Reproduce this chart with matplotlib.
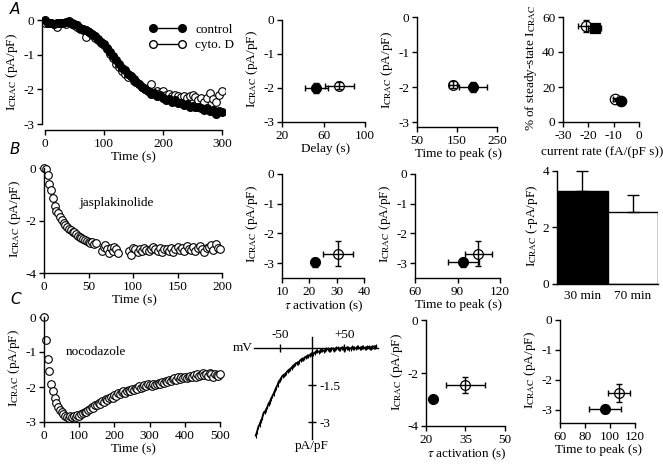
import numpy as np
import matplotlib
matplotlib.use("Agg")
import matplotlib.pyplot as plt
from matplotlib.lines import Line2D

plt.rcParams['font.family'] = ['Liberation Serif', 'DejaVu Serif']
plt.rcParams['mathtext.fontset'] = 'stix'
plt.rcParams['font.size'] = 9.5
plt.rcParams['axes.unicode_minus'] = False
plt.rcParams['axes.linewidth'] = 1.0

# ---- A: cytochalasin D time course (sampled every 5 s) ----
a_time = np.arange(0, 305, 5)
a_control = [0.00, -0.08, -0.10, -0.12, -0.10, -0.08, -0.10, -0.05, -0.02, -0.08,
             -0.12, -0.15, -0.22, -0.25, -0.30, -0.35, -0.40, -0.47, -0.55, -0.62,
             -0.70, -0.80, -0.92, -1.05, -1.15, -1.28, -1.38, -1.45, -1.55, -1.62,
             -1.70, -1.78, -1.85, -1.92, -1.98, -2.05, -2.12, -2.10, -2.18, -2.15,
             -2.25, -2.30, -2.28, -2.35, -2.30, -2.40, -2.38, -2.45, -2.42, -2.50,
             -2.48, -2.52, -2.50, -2.55, -2.58, -2.55, -2.62, -2.60, -2.70, -2.62,
             -2.66]
a_cytod = [-0.10, -0.10, -0.08, -0.12, -0.20, -0.10, -0.08, -0.12, -0.05, -0.12,
           -0.15, -0.20, -0.25, -0.30, -0.50, -0.35, -0.42, -0.52, -0.58, -0.65,
           -0.72, -0.85, -0.98, -1.10, -1.28, -1.35, -1.48, -1.55, -1.65, -1.62,
           -1.75, -1.80, -1.85, -1.92, -2.00, -1.95, -1.85, -2.10, -2.05, -2.10,
           -2.05, -2.15, -2.12, -2.18, -2.15, -2.20, -2.22, -2.18, -2.25, -2.20,
           -2.15, -2.22, -2.30, -2.25, -2.35, -2.25, -2.10, -2.28, -2.35, -2.15,
           -2.05]

# summary points: [control, treated]
a_delay = [53, 75]
a_delay_err = [11, 14]
a_ttp = [190, 140]
a_ttp_err = [35, 10]
a_amp = [-2.0, -1.93]
a_amp_err = [0.15, 0.1]

rate_x = [-21, -17.5, -9.3, -7]
rate_xerr = [3, 2.5, 0.8, 0.6]
rate_pct = [55, 53.5, 13, 12]
rate_pcterr = [3.5, 1.0, 0.8, 0.8]

# ---- B: jasplakinolide ----
b_t1 = np.arange(0, 60, 2)
b_i1 = [0.0, -0.05, -0.25, -0.6, -0.85, -1.15, -1.45, -1.62, -1.72, -1.88,
        -1.98, -2.08, -2.18, -2.25, -2.32, -2.38, -2.45, -2.42, -2.52, -2.58,
        -2.62, -2.65, -2.7, -2.74, -2.78, -2.8, -2.85, -2.82, -2.88, -2.84]
b_t2 = [65, 67, 69, 71, 73, 75, 77, 79, 81, 83]
b_i2 = [-3.15, -3.0, -2.95, -3.1, -3.22, -3.05, -3.18, -3.0, -3.1, -3.22]
b_t3 = np.arange(95, 200, 2.5)
b_i3 = [-3.15, -3.3, -3.05, -3.1, -3.2, -3.1, -3.15, -3.05, -3.12, -3.18,
        -3.08, -3.0, -3.1, -3.15, -3.05, -3.2, -3.1, -3.08, -3.15, -3.05,
        -3.2, -3.1, -3.0, -3.12, -3.05, -3.18, -2.98, -3.08, -3.12, -3.02,
        -3.15, -3.05, -2.98, -3.1, -3.2, -3.05, -3.0, -2.95, -3.12, -2.9,
        -3.05, -3.08]

b_tau = [22, 30.5]
b_tau_err = [1, 5.5]
b_ttp = [94, 104.5]
b_ttp_err = [11, 9.5]
b_amp = [-2.97, -2.68]
b_amp_err = [0.15, 0.42]

bar_labels = ['30 min', '70 min']
bar_vals = [3.3, 2.55]
bar_err = [0.7, 0.6]

# ---- C: nocodazole ----
c_time = np.arange(0, 505, 5)
c_noco = [0.0, -0.65, -1.2, -1.55, -1.9, -2.1, -2.3, -2.45, -2.58, -2.65,
          -2.72, -2.78, -2.82, -2.85, -2.88, -2.84, -2.86, -2.82, -2.85, -2.8,
          -2.83,
          -2.78, -2.75, -2.72, -2.7, -2.65, -2.62, -2.58, -2.6, -2.52, -2.5,
          -2.45, -2.48, -2.4, -2.42, -2.35, -2.38, -2.3, -2.28, -2.32, -2.22,
          -2.25, -2.18, -2.2, -2.15, -2.12, -2.18, -2.1, -2.08, -2.12, -2.05,
          -2.08, -2.02, -2.05, -1.98, -2.02, -2.0, -1.95, -1.98, -1.92, -1.95,
          -1.98, -1.92, -1.95, -1.9, -1.88, -1.92, -1.85, -1.88, -1.82, -1.85,
          -1.8, -1.83, -1.78, -1.75, -1.8, -1.72, -1.76, -1.7, -1.74, -1.72,
          -1.75, -1.7, -1.68, -1.72, -1.65, -1.7, -1.62, -1.68, -1.65, -1.6,
          -1.66, -1.62, -1.68, -1.6, -1.64, -1.7, -1.62, -1.66, -1.68, -1.62]

# I-V trace (ramp), read every 2 mV
iv_mv = np.arange(-88, 101, 2)
iv_i = [-3.55, -3.4, -3.2, -3.1, -2.95, -2.85, -2.65, -2.6, -2.5, -2.4,
        -2.25, -2.18, -2.05, -1.95, -1.85, -1.72, -1.6, -1.5, -1.35, -1.3,
        -1.2, -1.12, -1.08, -1.06, -1.0, -0.92, -0.88, -0.86, -0.8, -0.72,
        -0.7, -0.66, -0.6, -0.6, -0.55, -0.48, -0.45, -0.46, -0.42, -0.36,
        -0.33, -0.34, -0.3, -0.24, -0.22, -0.24, -0.2, -0.14, -0.12, -0.16,
        -0.14, -0.08, -0.08, -0.12, -0.1, -0.04, -0.04, -0.09, -0.08, -0.02,
        -0.02, -0.07, -0.06, 0.0, 0.0, -0.05, -0.05, 0.02, 0.01, -0.03,
        -0.03, 0.02, 0.02, -0.02, -0.02, 0.03, 0.02, -0.01, -0.01, 0.03,
        0.03, 0.0, 0.0, 0.04, 0.03, 0.0, 0.0, 0.05, 0.04, 0.02,
        0.02, 0.06, 0.06, 0.04, 0.08]

c_tau = [22.6, 35]
c_tau_err = [0.8, 7.3]
c_ttp = [96, 107]
c_ttp_err = [13, 9]
c_amp = [-2.98, -2.45]
c_amp_err = [0.12, 0.3]

W, H = 663, 467
fig = plt.figure(figsize=(W / 100, H / 100), dpi=100)


def add_ax(l, t, r, b):
    ax = fig.add_axes([l / W, 1 - b / H, (r - l) / W, (b - t) / H])
    ax.spines[['top', 'right']].set_visible(False)
    ax.tick_params(direction='out', length=3.5, width=1, pad=2)
    ax.patch.set_visible(False)
    return ax


ICRAC = r'I$_{\rm CRAC}$ (pA/pF)'


def pair(ax, x, xe, y, ye, ms=7):
    # filled = control, open = treatment; error bars drawn over the open marker
    ax.plot(x[0], y[0], 'o', mfc='k', mec='k', ms=ms, zorder=2)
    ax.plot(x[1], y[1], 'o', mfc='white', mec='k', ms=ms, mew=0.9, zorder=2)
    ax.errorbar(x, y, xerr=xe, yerr=ye, fmt='none', ecolor='k', elinewidth=1,
                capsize=2, capthick=1, zorder=3)


# ---------- row A ----------
ax = add_ax(42, 14.8, 225, 130)
ax.plot(a_time, a_cytod, 'o', mfc='white', mec='k', ms=5.5, mew=0.8)
ax.plot(a_time, a_control, 'o', mfc='k', mec='k', ms=5.5)
ax.set_xlim(-5, 305)
ax.set_ylim(-3.17, 0.15)
ax.spines['left'].set_bounds(-3, 0)
ax.spines['bottom'].set_bounds(0, 300)
ax.set_xticks([0, 100, 200, 300])
ax.set_yticks([0, -1, -2, -3])
ax.set_xlabel('Time (s)', labelpad=1)
ax.set_ylabel(ICRAC, labelpad=2)
handles = [Line2D([], [], color='k', lw=1, marker='o', mfc='k', mec='k', ms=5.5),
           Line2D([], [], color='k', lw=1, marker='o', mfc='white', mec='k', ms=5.5)]
ax.legend(handles, ['control', 'cyto. D'], numpoints=2, frameon=False,
          loc='upper left', bbox_to_anchor=(0.55, 0.98), handlelength=2.8,
          handletextpad=0.7, labelspacing=0.25, borderpad=0)

ax = add_ax(282, 16.6, 370, 122)
pair(ax, a_delay, a_delay_err, a_amp, a_amp_err)
ax.set_xlim(20, 104.8)
ax.set_ylim(-3, 0.1)
ax.spines['left'].set_bounds(-3, 0)
ax.spines['bottom'].set_bounds(20, 100)
ax.set_xticks([20, 60, 100])
ax.set_yticks([0, -1, -2, -3])
ax.set_xlabel('Delay (s)', labelpad=1)
ax.set_ylabel(ICRAC, labelpad=2)

ax = add_ax(417, 13.5, 500, 127)
pair(ax, a_ttp, a_ttp_err, a_amp, a_amp_err)
ax.set_xlim(50, 257)
ax.set_ylim(-3.14, 0.1)
ax.spines['left'].set_bounds(-3.14, 0)
ax.spines['bottom'].set_bounds(50, 250)
ax.set_xticks([50, 150, 250])
ax.set_yticks([0, -1, -2, -3])
ax.set_xlabel('Time to peak (s)', labelpad=1)
ax.set_ylabel(ICRAC, labelpad=2)

ax = add_ax(563, 13.5, 641, 122)
mk = [('o', 'white'), ('s', 'k'), ('o', 'white'), ('o', 'k')]
for i in range(4):
    ax.plot(rate_x[i], rate_pct[i], mk[i][0], mfc=mk[i][1], mec='k', ms=7.5, mew=0.9, zorder=2)
ax.errorbar(rate_x, rate_pct, xerr=rate_xerr, yerr=rate_pcterr, fmt='none',
            ecolor='k', elinewidth=1, capsize=2, capthick=1, zorder=3)
ax.set_xlim(-30, 0.8)
ax.set_ylim(0, 62)
ax.spines['left'].set_bounds(0, 60)
ax.spines['bottom'].set_bounds(-30, 0)
ax.set_xticks([-30, -20, -10, 0])
ax.set_yticks([0, 20, 40, 60])
ax.set_xlabel('current rate (fA/(pF s))', labelpad=3)
ax.set_ylabel(r'% of steady-state I$_{\rm CRAC}$', labelpad=2)

# ---------- row B ----------
ax = add_ax(44, 165.4, 224, 273)
ax.plot(b_t1, b_i1, 'o', mfc='white', mec='k', ms=5.5, mew=0.8, clip_on=False)
ax.plot(b_t2, b_i2, 'o', mfc='white', mec='k', ms=5.5, mew=0.8)
ax.plot(b_t3, b_i3, 'o', mfc='white', mec='k', ms=5.5, mew=0.8)
ax.set_xlim(0, 202)
ax.set_ylim(-4, 0.1)
ax.spines['left'].set_bounds(-4, 0)
ax.spines['bottom'].set_bounds(0, 200)
ax.set_xticks([0, 50, 100, 150, 200])
ax.set_yticks([0, -2, -4])
ax.set_xlabel('Time (s)', labelpad=1)
ax.set_ylabel(ICRAC, labelpad=2)
ax.text(82, -1.33, 'jasplakinolide', ha='center', va='center')

ax = add_ax(282, 171, 366, 278)
pair(ax, b_tau, b_tau_err, b_amp, b_amp_err)
ax.set_xlim(10, 40.7)
ax.set_ylim(-3.5, 0.1)
ax.spines['left'].set_bounds(-3.5, 0)
ax.spines['bottom'].set_bounds(10, 40)
ax.set_xticks([10, 20, 30, 40])
ax.set_yticks([0, -1, -2, -3])
ax.set_xlabel(r'$\tau$ activation (s)', labelpad=1)
ax.set_ylabel(ICRAC, labelpad=2)

ax = add_ax(415, 171, 502, 278)
pair(ax, b_ttp, b_ttp_err, b_amp, b_amp_err)
ax.set_xlim(60, 121.4)
ax.set_ylim(-3.5, 0.1)
ax.spines['left'].set_bounds(-3.5, 0)
ax.spines['bottom'].set_bounds(60, 120)
ax.set_xticks([60, 90, 120])
ax.set_yticks([0, -1, -2, -3])
ax.set_xlabel('Time to peak (s)', labelpad=1)
ax.set_ylabel(ICRAC, labelpad=2)

ax = add_ax(557, 168, 658, 284)
ax.bar([0, 1], bar_vals, width=1, color=['k', 'white'], edgecolor='k', linewidth=1)
ax.errorbar([0, 1], bar_vals, yerr=[[0, 0], bar_err], fmt='none', ecolor='k',
            elinewidth=1, capsize=4, capthick=1)
ax.set_xlim(-0.5, 1.5)
ax.set_ylim(0, 4.1)
ax.spines['left'].set_bounds(0, 4)
ax.set_xticks([0, 1])
ax.set_xticklabels(bar_labels)
ax.tick_params(axis='x', length=0, pad=4)
ax.set_yticks([0, 2, 4])
ax.set_ylabel(r'I$_{\rm CRAC}$ (-pA/pF)', labelpad=2)

# ---------- row C ----------
ax = add_ax(44, 313.5, 222, 422)
ax.plot(c_time, c_noco, 'o', mfc='white', mec='k', ms=5.5, mew=0.8, clip_on=False)
ax.set_xlim(0, 505)
ax.set_ylim(-3, 0.1)
ax.spines['left'].set_bounds(-3, 0)
ax.spines['bottom'].set_bounds(0, 500)
ax.set_xticks([0, 100, 200, 300, 400, 500])
ax.set_yticks([0, -1, -2, -3])
ax.set_xlabel('Time (s)', labelpad=1)
ax.set_ylabel(ICRAC, labelpad=2)
ax.text(148, -1.0, 'nocodazole', ha='center', va='center')

# I-V curve with axes crossing at the origin
ax = fig.add_axes([245 / W, 1 - 445 / H, 137 / W, 115 / H])
ax.patch.set_visible(False)
ax.plot(iv_mv, iv_i, color='k', lw=1.3, marker='|', ms=3, mew=0.8)
ax.set_xlim(-104.7, 109)
ax.set_ylim(-3.93, 0.73)
ax.spines[['left', 'bottom']].set_visible(False)
ax.spines['top'].set_position(('data', 0))
ax.spines['top'].set_bounds(-90, 103)
ax.spines['right'].set_position(('data', 0))
ax.spines['right'].set_bounds(-3.7, 0.45)
ax.xaxis.tick_top()
ax.yaxis.tick_right()
ax.set_xticks([-50, 50])
ax.set_xticklabels(['-50', '+50'])
ax.set_yticks([-1.5, -3])
ax.set_yticklabels(['-1.5', '-3'])
ax.tick_params(direction='inout', length=6, width=1, pad=2)
ax.text(-93, 0, 'mV', ha='right', va='center')
ax.text(0, -3.72, 'pA/pF', ha='center', va='top')

ax = add_ax(426, 317.4, 507, 426)
pair(ax, c_tau, c_tau_err, c_amp, c_amp_err)
ax.set_xlim(20, 50.8)
ax.set_ylim(-4, 0.1)
ax.spines['left'].set_bounds(-4, 0)
ax.spines['bottom'].set_bounds(20, 50)
ax.set_xticks([20, 35, 50])
ax.set_yticks([0, -2, -4])
ax.set_xlabel(r'$\tau$ activation (s)', labelpad=1)
ax.set_ylabel(ICRAC, labelpad=2)

ax = add_ax(560, 317, 637, 423)
pair(ax, c_ttp, c_ttp_err, c_amp, c_amp_err)
ax.set_xlim(60, 121.6)
ax.set_ylim(-3.45, 0.1)
ax.spines['left'].set_bounds(-3.45, 0)
ax.spines['bottom'].set_bounds(60, 120)
ax.set_xticks([60, 80, 100, 120])
ax.set_yticks([0, -1, -2, -3])
ax.set_xlabel('Time to peak (s)', labelpad=1)
ax.set_ylabel(ICRAC, labelpad=2)

# panel letters
for letter, y in [('A', 10), ('B', 150), ('C', 300)]:
    fig.text(10 / W, 1 - y / H, letter, family='DejaVu Sans', style='italic',
             fontsize=11, ha='left', va='center')

fig.savefig('out.png', dpi=100)
